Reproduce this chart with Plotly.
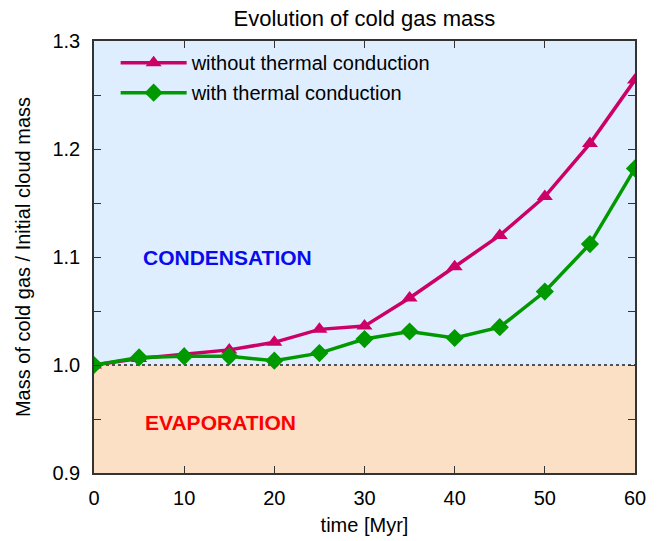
import plotly.graph_objects as go

time = [0, 5, 10, 15, 20, 25, 30, 35, 40, 45, 50, 55, 60]
no_cond = [1.0, 1.006, 1.010, 1.014, 1.021, 1.033, 1.036, 1.062, 1.091, 1.120, 1.156, 1.205, 1.264]
with_cond = [1.0, 1.007, 1.008, 1.008, 1.004, 1.011, 1.024, 1.031, 1.025, 1.035, 1.068, 1.112, 1.182]

PINK = "#cc0066"
GREEN = "#009900"
FONT = "Liberation Sans, Arial, sans-serif"

fig = go.Figure()
fig.add_trace(go.Scatter(x=time, y=no_cond, mode="lines+markers", name="without thermal conduction",
                         legendgroup="a",
                         line=dict(color=PINK, width=3.5),
                         marker=dict(symbol="triangle-up", size=14, color=PINK)))
fig.add_trace(go.Scatter(x=time, y=with_cond, mode="lines+markers", name="with thermal conduction",
                         legendgroup="b",
                         line=dict(color=GREEN, width=3.5),
                         marker=dict(symbol="diamond", size=14, color=GREEN)))

fig.add_shape(type="rect", xref="x", yref="y", x0=0, x1=60, y0=1.0, y1=1.3,
              fillcolor="#dfeeff", line_width=0, layer="below")
fig.add_shape(type="rect", xref="x", yref="y", x0=0, x1=60, y0=0.9, y1=1.0,
              fillcolor="#fbe0c6", line_width=0, layer="below")
fig.add_shape(type="line", xref="x", yref="y", x0=0, x1=60, y0=1.0, y1=1.0,
              line=dict(color="#222222", width=1.5, dash="dot"), layer="below")

fig.add_annotation(x=14.8, y=1.1, text="<b>CONDENSATION</b>", showarrow=False,
                   font=dict(family=FONT, size=21, color="#0a0aee"))
fig.add_annotation(x=14.0, y=0.947, text="<b>EVAPORATION</b>", showarrow=False,
                   font=dict(family=FONT, size=21, color="#ff0000"))

axis_common = dict(showline=True, linecolor="#333333", linewidth=1.5, mirror="ticks",
                   ticks="inside", ticklen=7, tickcolor="#333333", showgrid=False, zeroline=False,
                   automargin=False,
                   tickfont=dict(family=FONT, size=20, color="black"))

fig.update_xaxes(range=[0, 60], dtick=10, tick0=0, ticklabelstandoff=6,
                 title=dict(text="time [Myr]", font=dict(family=FONT, size=20, color="black"), standoff=10),
                 **axis_common)
fig.update_yaxes(range=[0.9, 1.3], dtick=0.1, tick0=0.9, tickformat=".1f", ticklabelstandoff=8,
                 minor=dict(dtick=0.05, ticks="inside", ticklen=7, tickcolor="#333333"),
                 title=dict(text="Mass of cold gas / Initial cloud mass",
                            font=dict(family=FONT, size=20, color="black"), standoff=16),
                 **axis_common)

fig.update_layout(
    width=671, height=541,
    margin=dict(l=94, r=36, t=41, b=68),
    paper_bgcolor="white", plot_bgcolor="white",
    title=dict(text="Evolution of cold gas mass", x=0.543, xanchor="center", y=0.967, yanchor="middle",
               font=dict(family=FONT, size=22, color="black")),
    legend=dict(x=0.04, y=0.995, xanchor="left", yanchor="top", bgcolor="rgba(0,0,0,0)",
                font=dict(family=FONT, size=20, color="black"), itemwidth=66,
                traceorder="grouped", tracegroupgap=1),
    showlegend=True,
)

fig.write_html("out.html")
